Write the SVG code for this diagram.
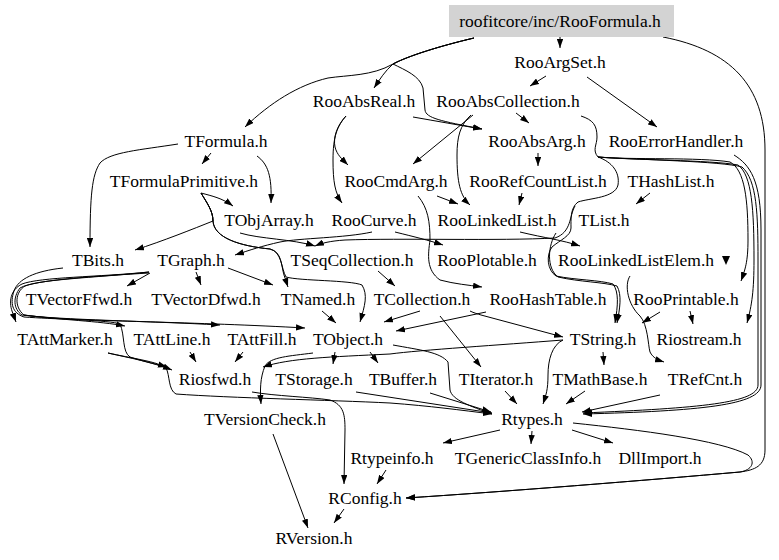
<svg xmlns="http://www.w3.org/2000/svg" width="779" height="560" viewBox="0 0 779 560">
<style>
text{font-family:"Liberation Serif","Times New Roman",serif;font-size:17.5px;fill:#000;text-anchor:middle}
.e path{fill:none;stroke:#000;stroke-width:1;marker-end:url(#ah)}
</style>
<defs>
<marker id="ah" markerUnits="userSpaceOnUse" viewBox="0 0 10 7" markerWidth="9" markerHeight="6.5" refX="10" refY="3.5" orient="auto"><path d="M0,0L10,3.5L0,7z" fill="#000"/></marker>
</defs>
<rect width="779" height="560" fill="#fff"/>
<g id="connectors" class="e">
<path d="M560,37L560,48"/>
<path d="M474,38C440,46 408,56 393,64C385,71 380,79 374,88"/>
<path d="M474,38C440,46 408,56 393,64C372,76 348,75 328,78C298,85 270,103 245,127"/>
<path d="M474,38C440,46 408,56 393,64C405,70 420,76 423,88L425,110C426,118 440,121 482,129"/>
<path d="M413,117C436,121 458,125 482,129"/>
<path d="M546,76L530,86"/>
<path d="M587,77L657,127"/>
<path d="M516,113L529,123"/>
<path d="M473,115L413,164"/>
<path d="M471,115C460,125 457,137 457,155C457,182 460,196 470,205"/>
<path d="M346,116C337,126 333,137 335,147C337,155 342,159 348,165"/>
<path d="M346,116C337,126 333,137 333,160C333,182 335,193 342,203"/>
<path d="M538,153L538,166"/>
<path d="M211,153L202,164"/>
<path d="M178,144C140,150 110,152 100,163C92,175 90,195 90,247"/>
<path d="M257,156C268,164 272,176 271,203"/>
<path d="M201,193C212,196 222,198 233,206"/>
<path d="M201,193C207,203 213,211 213,221C193,229 163,241 135,250"/>
<path d="M201,193C207,203 213,211 213,221C214,238 240,246 270,249C282,252 281,268 286,277C300,281 350,280 362,285C368,295 365,305 360,322"/>
<path d="M201,193C207,203 213,211 213,221C214,238 240,246 270,249C282,252 281,265 284,275L288,287"/>
<path d="M240,233C260,239 292,239 315,246"/>
<path d="M372,232C345,238 300,238 280,242C262,246 250,250 235,255"/>
<path d="M395,232C415,237 428,240 443,245"/>
<path d="M437,196L458,204"/>
<path d="M522,193L519,205"/>
<path d="M650,193L636,204"/>
<path d="M575,206C569,216 572,232 555,238C500,241 400,238 345,240C330,241 322,243 315,246"/>
<path d="M520,232C545,238 562,240 580,246"/>
<path d="M418,196C428,208 430,222 430,240C428,255 426,270 440,280C455,284 468,285 482,287"/>
<path d="M598,157C612,162 620,172 618,185C615,198 590,198 578,202C570,208 571,220 571,228C571,236 560,240 552,247C546,255 547,270 556,276C575,280 600,280 613,284C619,292 618,305 615,323"/>
<path d="M556,233C548,245 546,268 558,277C580,282 603,282 617,286C622,295 620,308 617,323"/>
<path d="M630,276C624,285 628,305 640,316C648,325 648,345 650,352C653,358 658,360 664,362"/>
<path d="M150,273L127,286"/>
<path d="M196,272L201,285"/>
<path d="M228,268L273,285"/>
<path d="M149,272C100,277 40,277 22,284C10,290 9,302 12,311L16,322"/>
<path d="M63,268C35,271 18,279 14,291C10,303 12,313 24,317C80,321 200,322 305,328"/>
<path d="M149,272C95,278 35,279 20,288C13,297 13,309 22,315C60,320 150,321 220,325"/>
<path d="M149,273C100,276 45,279 25,286C15,292 14,307 24,315C60,320 100,321 125,326"/>
<path d="M24,315C60,320 110,320 120,324C125,335 122,352 130,357C145,362 160,365 167,367"/>
<path d="M108,353C130,358 152,362 172,370"/>
<path d="M108,353C130,358 160,362 166,368C170,375 168,390 176,394C230,398 330,400 390,403C430,406 460,410 492,414"/>
<path d="M190,352L196,362"/>
<path d="M243,352L235,362"/>
<path d="M322,311L336,323"/>
<path d="M420,311L384,322"/>
<path d="M470,311C474,313 478,314 481,315L563,337"/>
<path d="M486,312L396,331"/>
<path d="M378,271L395,286"/>
<path d="M603,352L604,365"/>
<path d="M563,340C552,345 548,360 548,375C548,390 546,395 543,404"/>
<path d="M563,340C500,345 420,350 390,354C330,357 290,358 263,367"/>
<path d="M313,353C290,356 270,357 265,366C260,378 260,390 261,404"/>
<path d="M335,352L333,364"/>
<path d="M370,352L378,363"/>
<path d="M393,345C420,350 440,352 448,362L450,390C452,400 470,406 492,414"/>
<path d="M252,392C275,396 310,397 330,400C344,405 345,415 345,430L344,484"/>
<path d="M356,392L492,413"/>
<path d="M430,393L491,412"/>
<path d="M505,391L517,404"/>
<path d="M440,316L481,367"/>
<path d="M585,391L566,404"/>
<path d="M660,395L582,412"/>
<path d="M598,157C630,160 700,157 730,162C745,170 748,200 748,240C748,262 745,270 741,281"/>
<path d="M598,157C630,160 712,160 738,165C752,175 754,210 754,260C754,290 752,305 747,323"/>
<path d="M581,116C593,120 597,125 597,137C597,145 592,150 598,157C640,160 720,161 742,167C757,180 758,215 758,260L758,385C758,403 700,408 583,413"/>
<path d="M734,155C750,165 761,180 761,230L761,385C761,405 700,411 583,414"/>
<path d="M663,37C730,50 765,85 765,150L765,450C765,466 755,470 740,472C650,480 500,492 406,498"/>
<path d="M573,423C640,430 720,440 748,455C756,462 752,470 740,472C650,480 500,492 406,498"/>
<path d="M690,311L693,324"/>
<path d="M660,312L642,323"/>
<path d="M500,430L443,443"/>
<path d="M532,431L531,444"/>
<path d="M572,430L613,443"/>
<path d="M386,470L377,484"/>
<path d="M273,434L308,528"/>
<path d="M344,509L334,523"/>
<polygon points="722,256 730,256 726,265" fill="#000"/>
</g>
<g id="n_RooFormula"><rect x="449" y="5" width="225" height="32" fill="#d3d3d3"/><text x="560" y="27">roofitcore/inc/RooFormula.h</text></g>
<g id="n_RooArgSet"><text x="560" y="68">RooArgSet.h</text></g>
<g id="n_RooAbsReal"><text x="364" y="107">RooAbsReal.h</text></g>
<g id="n_RooAbsCollection"><text x="508" y="107">RooAbsCollection.h</text></g>
<g id="n_TFormula"><text x="226" y="146.5">TFormula.h</text></g>
<g id="n_RooAbsArg"><text x="537" y="146.5">RooAbsArg.h</text></g>
<g id="n_RooErrorHandler"><text x="676" y="146.5">RooErrorHandler.h</text></g>
<g id="n_TFormulaPrimitive"><text x="184" y="186.5">TFormulaPrimitive.h</text></g>
<g id="n_RooCmdArg"><text x="396" y="186.5">RooCmdArg.h</text></g>
<g id="n_RooRefCountList"><text x="538" y="186.5">RooRefCountList.h</text></g>
<g id="n_THashList"><text x="671" y="186.5">THashList.h</text></g>
<g id="n_TObjArray"><text x="269" y="226">TObjArray.h</text></g>
<g id="n_RooCurve"><text x="374" y="226">RooCurve.h</text></g>
<g id="n_RooLinkedList"><text x="497" y="226">RooLinkedList.h</text></g>
<g id="n_TList"><text x="604" y="226">TList.h</text></g>
<g id="n_TBits"><text x="98" y="265.5">TBits.h</text></g>
<g id="n_TGraph"><text x="191" y="265.5">TGraph.h</text></g>
<g id="n_TSeqCollection"><text x="352" y="265.5">TSeqCollection.h</text></g>
<g id="n_RooPlotable"><text x="487" y="265.5">RooPlotable.h</text></g>
<g id="n_RooLinkedListElem"><text x="636" y="265.5">RooLinkedListElem.h</text></g>
<g id="n_TVectorFfwd"><text x="79" y="305">TVectorFfwd.h</text></g>
<g id="n_TVectorDfwd"><text x="206" y="305">TVectorDfwd.h</text></g>
<g id="n_TNamed"><text x="318" y="305">TNamed.h</text></g>
<g id="n_TCollection"><text x="422" y="305">TCollection.h</text></g>
<g id="n_RooHashTable"><text x="548" y="305">RooHashTable.h</text></g>
<g id="n_RooPrintable"><text x="686" y="305">RooPrintable.h</text></g>
<g id="n_TAttMarker"><text x="65" y="345">TAttMarker.h</text></g>
<g id="n_TAttLine"><text x="172" y="345">TAttLine.h</text></g>
<g id="n_TAttFill"><text x="262" y="345">TAttFill.h</text></g>
<g id="n_TObject"><text x="348" y="345">TObject.h</text></g>
<g id="n_TString"><text x="603" y="345">TString.h</text></g>
<g id="n_Riostream"><text x="699" y="345">Riostream.h</text></g>
<g id="n_Riosfwd"><text x="215" y="385">Riosfwd.h</text></g>
<g id="n_TStorage"><text x="314" y="385">TStorage.h</text></g>
<g id="n_TBuffer"><text x="403" y="385">TBuffer.h</text></g>
<g id="n_TIterator"><text x="496" y="385">TIterator.h</text></g>
<g id="n_TMathBase"><text x="600" y="385">TMathBase.h</text></g>
<g id="n_TRefCnt"><text x="705" y="385">TRefCnt.h</text></g>
<g id="n_TVersionCheck"><text x="265" y="424.5">TVersionCheck.h</text></g>
<g id="n_Rtypes"><text x="532" y="424.5">Rtypes.h</text></g>
<g id="n_Rtypeinfo"><text x="392" y="464">Rtypeinfo.h</text></g>
<g id="n_TGenericClassInfo"><text x="528" y="464">TGenericClassInfo.h</text></g>
<g id="n_DllImport"><text x="660" y="464">DllImport.h</text></g>
<g id="n_RConfig"><text x="365" y="504">RConfig.h</text></g>
<g id="n_RVersion"><text x="314" y="543.5">RVersion.h</text></g>
</svg>
